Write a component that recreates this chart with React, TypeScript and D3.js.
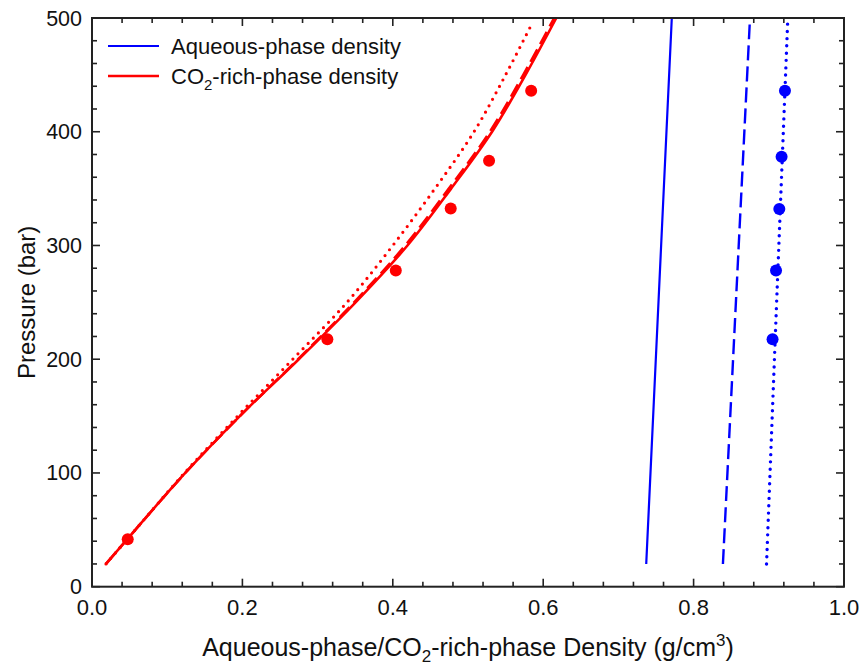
import React from "react";
import * as d3 from "d3";

// Red (CO2-rich-phase) model curves: pressure (bar) vs density (g/cm3)
const redPressures = [20, 50, 100, 150, 200, 250, 300, 350, 400, 450, 500];
const redSolid = [0.0186, 0.0576, 0.124, 0.1966, 0.275, 0.3505, 0.4195, 0.4775, 0.532, 0.5765, 0.6174];
const redDashed = [0.0186, 0.0576, 0.124, 0.1966, 0.274, 0.3485, 0.4165, 0.4745, 0.529, 0.5735, 0.6145];
const redDottedPressures = [20, 50, 100, 150, 200, 250, 300, 350, 400, 450, 495];
const redDotted = [0.0186, 0.0576, 0.123, 0.1936, 0.267, 0.339, 0.4, 0.456, 0.508, 0.55, 0.585];

// Blue (aqueous-phase) model curves
const bluePressures = [20, 260, 500];
const blueSolid = [0.737, 0.754, 0.771];
const blueDashed = [0.839, 0.857, 0.875];
const blueDottedPressures = [20, 260, 495];
const blueDotted = [0.897, 0.911, 0.925];

// Experimental points
const redPointX = [0.0475, 0.313, 0.404, 0.477, 0.528, 0.584];
const redPointP = [41.7, 217.5, 278, 332.5, 374.5, 436];
const bluePointX = [0.905, 0.9096, 0.914, 0.917, 0.9215];
const bluePointP = [217.5, 278, 332, 378, 436];

const xTicks = [0, 0.2, 0.4, 0.6, 0.8, 1.0];
const yTicks = [0, 100, 200, 300, 400, 500];

const W = 862;
const H = 666;
const L = 92, R = 844, T = 18, B = 586.7;
const RED = "#ff0000";
const BLUE = "#0000ff";
const AX = "#222";
const FONT = "'Liberation Sans', Arial, sans-serif";

export default function App() {
  const x = d3.scaleLinear().domain([0, 1]).range([L, R]);
  const y = d3.scaleLinear().domain([0, 500]).range([B, T]);

  const mk = (xs: number[], ps: number[]) =>
    d3
      .line<number>()
      .x((_, i) => x(xs[i]))
      .y((p) => y(p))
      .curve(d3.curveCatmullRom.alpha(0.5))(ps) as string;

  const xMinor = d3.range(0, 1.0001, 0.04);
  const yMinor = d3.range(0, 500.001, 20);
  const isMajorX = (v: number) => Math.abs(v / 0.2 - Math.round(v / 0.2)) < 1e-6;
  const isMajorY = (v: number) => Math.abs(v / 100 - Math.round(v / 100)) < 1e-6;

  return (
    <svg
      width={W}
      height={H}
      style={{ position: "absolute", left: 0, top: 0, background: "#fff" }}
      fontFamily={FONT}
    >
      <rect x={0} y={0} width={W} height={H} fill="#fff" />
      {/* curves */}
      <g fill="none">
        <path d={mk(redSolid, redPressures)} stroke={RED} strokeWidth={2.6} />
        <path d={mk(redDashed, redPressures)} stroke={RED} strokeWidth={2.6} strokeDasharray="14,6" />
        <path
          d={mk(redDotted, redDottedPressures)}
          stroke={RED}
          strokeWidth={3.2}
          strokeDasharray="0,7.3"
          strokeLinecap="round"
        />
        <path d={mk(blueSolid, bluePressures)} stroke={BLUE} strokeWidth={2.2} />
        <path d={mk(blueDashed, bluePressures)} stroke={BLUE} strokeWidth={2.4} strokeDasharray="15,6" />
        <path
          d={mk(blueDotted, blueDottedPressures)}
          stroke={BLUE}
          strokeWidth={3.4}
          strokeDasharray="0,7.3"
          strokeLinecap="round"
        />
      </g>
      {/* points */}
      {redPointX.map((v, i) => (
        <circle key={"r" + i} cx={x(v)} cy={y(redPointP[i])} r={6} fill={RED} />
      ))}
      {bluePointX.map((v, i) => (
        <circle key={"b" + i} cx={x(v)} cy={y(bluePointP[i])} r={6} fill={BLUE} />
      ))}
      {/* axes frame */}
      <rect x={L} y={T} width={R - L} height={B - T} fill="none" stroke={AX} strokeWidth={2} />
      {/* ticks */}
      {xMinor.map((v, i) => {
        const len = isMajorX(v) ? 8 : 5;
        return (
          <g key={"xt" + i} stroke={AX} strokeWidth={1.6}>
            <line x1={x(v)} x2={x(v)} y1={B} y2={B - len} />
            <line x1={x(v)} x2={x(v)} y1={T} y2={T + len} />
          </g>
        );
      })}
      {yMinor.map((v, i) => {
        const len = isMajorY(v) ? 8 : 5;
        return (
          <g key={"yt" + i} stroke={AX} strokeWidth={1.6}>
            <line x1={L} x2={L + len} y1={y(v)} y2={y(v)} />
            <line x1={R} x2={R - len} y1={y(v)} y2={y(v)} />
          </g>
        );
      })}
      {/* tick labels */}
      {xTicks.map((v) => (
        <text key={"xl" + v} x={x(v)} y={615} textAnchor="middle" fontSize={22} fill="#111">
          {v.toFixed(1)}
        </text>
      ))}
      {yTicks.map((v) => (
        <text key={"yl" + v} x={82} y={y(v) + 7.5} textAnchor="end" fontSize={21.5} fill="#111">
          {v}
        </text>
      ))}
      {/* axis titles */}
      <text x={(L + R) / 2} y={656} textAnchor="middle" fontSize={25} fill="#111">
        Aqueous-phase/CO
        <tspan fontSize={17} dy={6}>2</tspan>
        <tspan dy={-6}>-rich-phase Density (g/cm</tspan>
        <tspan fontSize={17} dy={-10}>3</tspan>
        <tspan dy={10}>)</tspan>
      </text>
      <text
        transform={`translate(35,${(T + B) / 2}) rotate(-90)`}
        textAnchor="middle"
        fontSize={24}
        fill="#111"
      >
        Pressure (bar)
      </text>
      {/* legend */}
      <line x1={108} x2={159} y1={46} y2={46} stroke={BLUE} strokeWidth={2.2} />
      <text x={171} y={53.5} fontSize={22} fill="#111">
        Aqueous-phase density
      </text>
      <line x1={108} x2={159} y1={76} y2={76} stroke={RED} strokeWidth={2.6} />
      <text x={171} y={83.5} fontSize={22} fill="#111">
        CO
        <tspan fontSize={15} dy={6}>2</tspan>
        <tspan dy={-6}>-rich-phase density</tspan>
      </text>
    </svg>
  );
}
